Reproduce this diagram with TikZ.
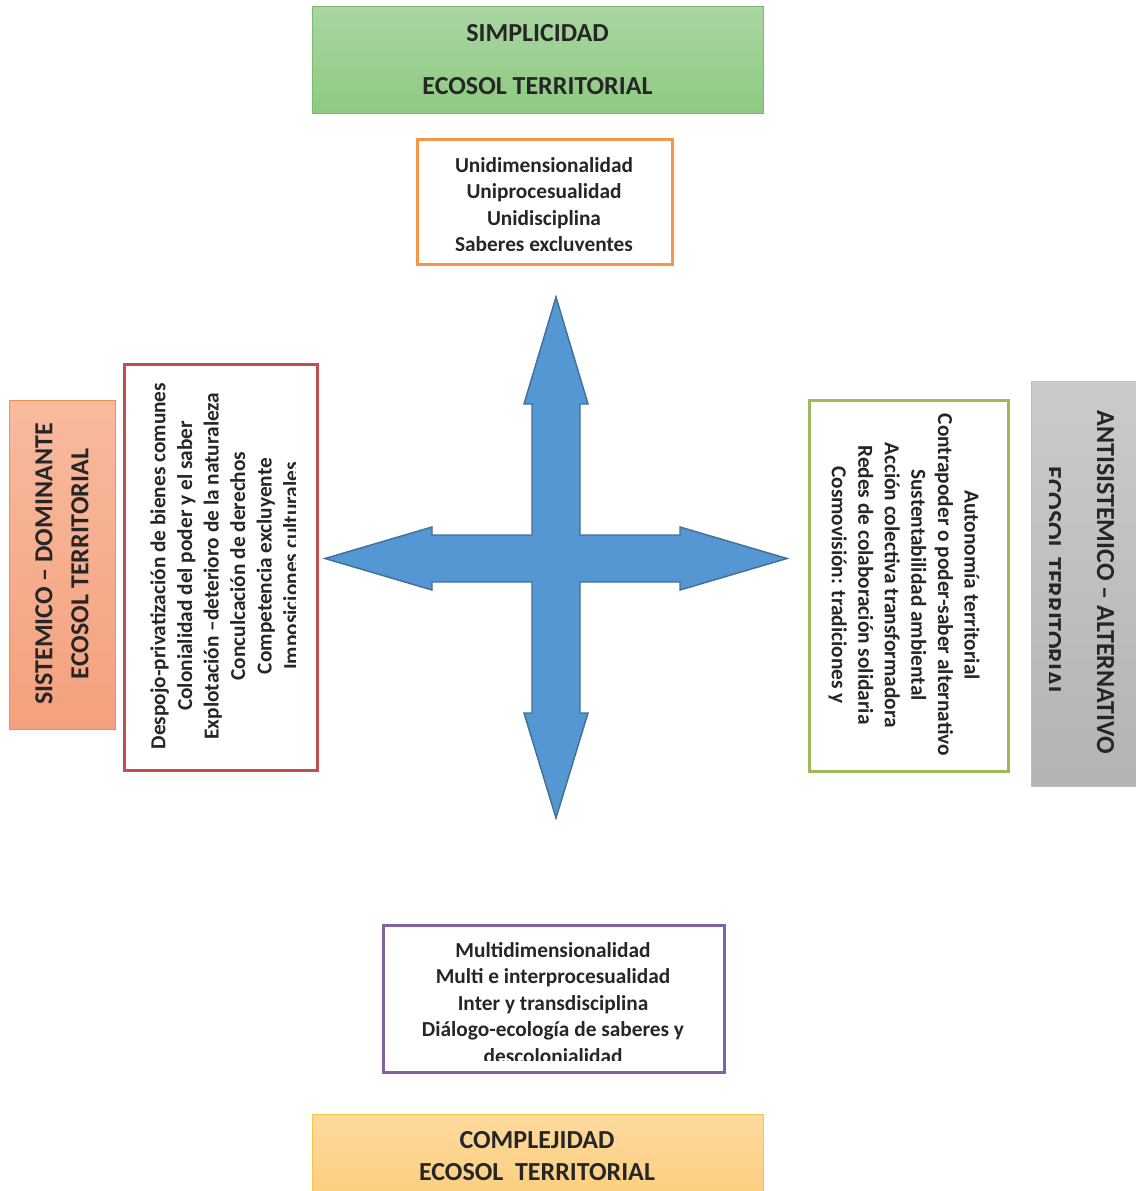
\documentclass[tikz,border=0pt]{standalone}
\usepackage{fontspec}
\setmainfont{Carlito}
\usetikzlibrary{fit}
\definecolor{txtc}{HTML}{262626}
\definecolor{grtop}{HTML}{A9D6A2}
\definecolor{grbot}{HTML}{8DCA80}
\definecolor{grline}{HTML}{7DBA6E}
\definecolor{orline}{HTML}{F79646}
\definecolor{redline}{HTML}{C0504D}
\definecolor{saltop}{HTML}{F8BA9E}
\definecolor{salbot}{HTML}{F4A17E}
\definecolor{salline}{HTML}{F0904E}
\definecolor{olline}{HTML}{9BBB59}
\definecolor{gytop}{HTML}{CBCBCB}
\definecolor{gybot}{HTML}{B3B3B3}
\definecolor{gyline}{HTML}{BDBDBD}
\definecolor{puline}{HTML}{8064A2}
\definecolor{yetop}{HTML}{FDDA9E}
\definecolor{yebot}{HTML}{FCCF80}
\definecolor{yeline}{HTML}{F9C449}
\definecolor{arfill}{HTML}{5497D2}
\definecolor{arline}{HTML}{41719C}
\begin{document}
\begin{tikzpicture}[x=0.75pt,y=-0.75pt,
  boxfit/.style={inner sep=0pt, outer sep=0pt},
  hdrbox/.style={boxfit, line width=0.75pt},
  linebox/.style={boxfit, line width=2.25pt, fill=white},
  body/.style={font=\bfseries\fontsize{16}{19.9}\selectfont, text=txtc, align=center, inner sep=0pt},
  head/.style={font=\bfseries\fontsize{19.5}{19.9}\selectfont, text=txtc, align=center, inner sep=0pt},
  arrowshape/.style={fill=arfill, draw=arline, line width=1.1pt, line join=miter}]
\useasboundingbox (0,0) rectangle (1135,1191);

% header boxes
\node[hdrbox, fit={(312,7) (763,114)}, top color=grtop, bottom color=grbot, draw=grline] (simp) {};
\node[head, font=\bfseries\fontsize{19.5}{39.75}\selectfont] (simpt) at ([yshift=0.5]simp.center) {SIMPLICIDAD\\ECOSOL TERRITORIAL};

\node[hdrbox, fit={(312,1114) (763,1194)}, top color=yetop, bottom color=yebot, draw=yeline] (comp) {};
\node[head, font=\bfseries\fontsize{19.5}{24}\selectfont] (compt) at (537,1156) {COMPLEJIDAD\\ECOSOL\ \ TERRITORIAL};

\node[hdrbox, fit={(9,400) (115,729)}, top color=saltop, bottom color=salbot, draw=salline] (sist) {};
\node[head, rotate=90, font=\bfseries\fontsize{19.5}{27}\selectfont] (sistt) at (62,564) {SISTEMICO -- DOMINANTE\\ECOSOL TERRITORIAL};

\node[hdrbox, fit={(1031,381) (1137,786)}, top color=gytop, bottom color=gybot, draw=gyline] (anti) {};
\begin{scope}
\clip (1049,381) rectangle (1135,786);
\node[head, rotate=-90, font=\bfseries\fontsize{19.5}{39.75}\selectfont] (antit) at (1079,582) {ANTISISTEMICO -- ALTERNATIVO\\ECOSOL TERRITORIAL};
\end{scope}

% content boxes
\node[linebox, fit={(417,140) (672,264)}, draw=orline] (uni) {};
\begin{scope}
\clip (420,143) rectangle (669,250);
\node[body] (unit) at (544,206) {Unidimensionalidad\\Uniprocesualidad\\Unidisciplina\\Saberes excluyentes};
\end{scope}

\node[linebox, fit={(383,925) (724,1072)}, draw=puline] (multi) {};
\begin{scope}
\clip (386,928) rectangle (721,1060);
\node[body] (multit) at (553,1003) {Multidimensionalidad\\Multi e interprocesualidad\\Inter y transdisciplina\\Diálogo-ecología de saberes y\\descolonialidad};
\end{scope}

\node[linebox, fit={(124,364) (317,770)}, draw=redline] (desp) {};
\begin{scope}
\clip (127,367) rectangle (295,767);
\node[body, rotate=90] (despt) at (226,566) {Despojo-privatización de bienes comunes\\Colonialidad del poder y el saber\\Explotación --deterioro de la naturaleza\\Conculcación de derechos\\Competencia excluyente\\Imposiciones culturales};
\end{scope}

\node[linebox, fit={(809,400) (1008,771)}, draw=olline] (auto) {};
\node[body, rotate=-90] (autot) at (904,585) {Autonomía territorial\\Contrapoder o poder-saber alternativo\\Sustentabilidad ambiental\\Acción colectiva transformadora\\Redes de colaboración solidaria\\Cosmovisión: tradiciones y};

% four-way arrow
\filldraw[arrowshape]
 (556,297) -- (588,404) -- (580,404) -- (580,535) -- (680,535) -- (680,527) -- (787,558.5)
 -- (680,590) -- (680,582) -- (580,582) -- (580,713) -- (588,713) -- (556,818)
 -- (524,713) -- (532,713) -- (532,582) -- (432,582) -- (432,590) -- (325,558.5)
 -- (432,527) -- (432,535) -- (532,535) -- (532,404) -- (524,404) -- cycle;
\end{tikzpicture}
\end{document}
